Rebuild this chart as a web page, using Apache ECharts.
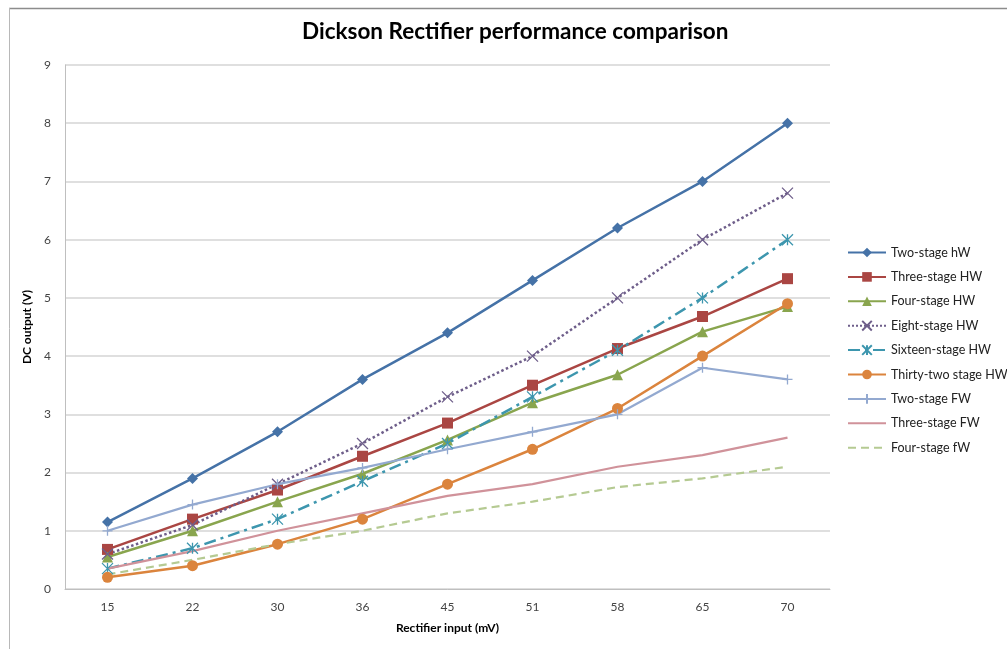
<!DOCTYPE html>
<html>
<head>
<meta charset="utf-8">
<script src="https://cdn.jsdelivr.net/npm/echarts@6/dist/echarts.min.js"></script>
<style>
html,body{margin:0;padding:0;background:#fff;}
#chart{width:1007px;height:649px;}
</style>
</head>
<body>
<div id="chart"></div>
<script>
var categories = ['15','22','30','36','45','51','58','65','70'];
var yTicks = [0,1,2,3,4,5,6,7,8,9];

var twoStageHW     = [1.15, 1.9, 2.7, 3.6, 4.4, 5.3, 6.2, 7.0, 8.0];
var threeStageHW   = [0.68, 1.2, 1.7, 2.28, 2.85, 3.5, 4.13, 4.68, 5.33];
var fourStageHW    = [0.55, 1.0, 1.5, 1.98, 2.56, 3.2, 3.68, 4.42, 4.85];
var eightStageHW   = [0.6, 1.1, 1.8, 2.5, 3.3, 4.0, 5.0, 6.0, 6.8];
var sixteenStageHW = [0.35, 0.7, 1.2, 1.85, 2.5, 3.3, 4.1, 5.0, 6.0];
var thirtyTwoHW    = [0.2, 0.4, 0.77, 1.2, 1.8, 2.4, 3.1, 4.0, 4.9];
var twoStageFW     = [1.0, 1.45, 1.8, 2.08, 2.4, 2.7, 3.0, 3.8, 3.6];
var threeStageFW   = [0.35, 0.65, 1.0, 1.3, 1.6, 1.8, 2.1, 2.3, 2.6];
var fourStageFW    = [0.25, 0.5, 0.77, 1.0, 1.3, 1.5, 1.75, 1.9, 2.1];

var seriesNames = ['Two-stage hW','Three-stage HW','Four-stage HW','Eight-stage HW','Sixteen-stage HW','Thirty-two stage HW','Two-stage FW','Three-stage FW','Four-stage fW'];

var xPath = 'path://M0,0L10,10M10,0L0,10';
var starPath = 'path://M0,0L10,10M10,0L0,10M5,0L5,10';
var plusPath = 'path://M5,0L5,10M0,5L10,5';

function mk(name, data, color, symbol, size, lineType, width, strokeSym, hideSym) {
  var symColor = hideSym ? 'rgba(0,0,0,0)' : color;
  return {
    name: name, type: 'line', data: data,
    symbol: symbol, symbolSize: size, showSymbol: !hideSym,
    lineStyle: {color: color, width: width, type: lineType},
    itemStyle: strokeSym ? {color: color, borderColor: color, borderWidth: 1.3} : {color: symColor, borderColor: symColor, borderWidth: 0},
    emphasis: {disabled: true},
    animation: false
  };
}

var chart = echarts.init(document.getElementById('chart'), null, {renderer: 'canvas'});
chart.setOption({
  backgroundColor: '#fff',
  animation: false,
  title: {
    text: 'Dickson Rectifier performance comparison',
    left: 297, top: 15,
    textStyle: {fontFamily: 'Lato', fontWeight: 'bold', fontSize: 22.5, color: '#000'}
  },
  graphic: [
    {type: 'line', shape: {x1: 9, y1: 8.5, x2: 1007, y2: 8.5}, style: {stroke: '#8c8c8c', lineWidth: 1.5}},
    {type: 'line', shape: {x1: 9.5, y1: 8, x2: 9.5, y2: 649}, style: {stroke: '#b8b8b8', lineWidth: 1}}
  ],
  legend: {
    orient: 'vertical', left: 847, top: 246, padding: 0,
    itemWidth: 38, itemHeight: 12, itemGap: 11.4,
    textStyle: {fontFamily: 'Lato', fontSize: 12.5, color: '#222'},
    data: seriesNames
  },
  grid: {left: 65, right: 177, top: 65, bottom: 60},
  xAxis: {
    type: 'category', data: categories, boundaryGap: true,
    name: 'Rectifier input (mV)', nameLocation: 'middle', nameGap: 33,
    nameTextStyle: {fontFamily: 'Lato', fontWeight: 'bold', fontSize: 12, color: '#000'},
    axisLine: {lineStyle: {color: '#bfbfbf', width: 1}},
    axisTick: {show: false},
    axisLabel: {fontFamily: 'Lato', fontSize: 12, color: '#444', margin: 12}
  },
  yAxis: {
    type: 'value', min: yTicks[0], max: yTicks[yTicks.length-1], interval: 1,
    name: 'DC output (V)', nameLocation: 'middle', nameGap: 32,
    nameTextStyle: {fontFamily: 'Lato', fontWeight: 'bold', fontSize: 12, color: '#000'},
    axisLine: {show: true, lineStyle: {color: '#bfbfbf', width: 1}},
    axisTick: {show: false},
    splitLine: {lineStyle: {color: '#d4d4d4', width: 1.5}},
    axisLabel: {fontFamily: 'Lato', fontSize: 12, color: '#444', margin: 14}
  },
  series: [
    mk(seriesNames[0], twoStageHW, '#4572A7', 'diamond', 11, 'solid', 2.5),
    mk(seriesNames[1], threeStageHW, '#AA4643', 'rect', 11, 'solid', 2.5),
    mk(seriesNames[2], fourStageHW, '#89A54E', 'triangle', 11, 'solid', 2.5),
    mk(seriesNames[3], eightStageHW, '#6E5E8A', xPath, 11, 'dotted', 2.5, true),
    mk(seriesNames[4], sixteenStageHW, '#3D96AE', starPath, 11, [12,5,3,5], 2.5, true),
    mk(seriesNames[5], thirtyTwoHW, '#DB843D', 'circle', 11, 'solid', 2.5),
    mk(seriesNames[6], twoStageFW, '#93A9D0', plusPath, 10, 'solid', 2.2, true),
    mk(seriesNames[7], threeStageFW, '#D0929A', 'rect', 4, 'solid', 2.2, false, true),
    mk(seriesNames[8], fourStageFW, '#B5CA92', 'rect', 4, [8,5], 2.2, false, true)
  ]
});
</script>
</body>
</html>
